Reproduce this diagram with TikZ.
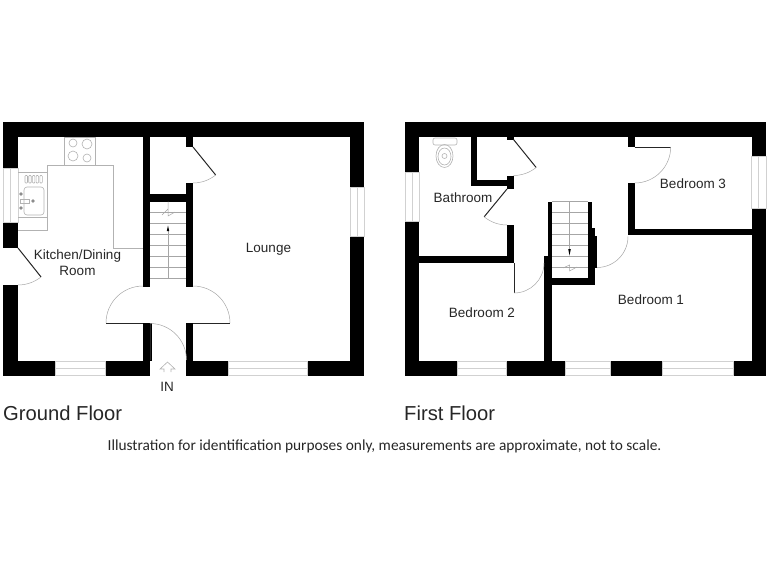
\documentclass[tikz,border=0pt]{standalone}
\usepackage{fontspec}
\setmainfont{Liberation Sans}
\newfontfamily\notefont{Carlito}
\usepackage{tikz}
\usetikzlibrary{calc}
\usetikzlibrary{positioning}
\begin{document}
\begin{tikzpicture}[x=1pt,y=-1pt]
  % some styles
  \tikzset{wall/.style={fill=black,draw=none}}
  \tikzset{pane/.style={draw=black!18,line width=0.7pt}}
  \tikzset{fitting/.style={draw=black!30,line width=0.6pt}}
  \tikzset{tread/.style={draw=black!35,line width=0.5pt}}
  \tikzset{leaf/.style={draw=black!85,line width=1pt}}
  \tikzset{swing/.style={draw=black!35,line width=0.5pt}}
  \tikzset{room/.style={font=\fontsize{13.5}{16}\selectfont,text=black!85,align=center,inner sep=0pt}}
  \tikzset{floorname/.style={font=\fontsize{20.2}{22}\selectfont,text=black!85,anchor=base west,inner sep=0pt}}

\useasboundingbox (0,0) rectangle (768,576);

% walls
\foreach \xa/\ya/\xb/\yb in {
    3/122/364/137, 3/122/18/168, 3/222/18/248, 3/285/18/376,
    3/361/55/376, 105/361/150/376, 186/361/228/376, 307/361/364/376,
    350/122/364/187, 350/236/364/376,
    143/137/150/287, 143/323/150/376, 186/137/193/147, 186/183/193/287,
    186/323/193/376, 143/194/193/201.5,
    405/122/766/137, 405/122/419/172, 405/221/419/376,
    405/361/457/376, 506/361/565/376, 610/361/662/376, 733/361/766/376,
    751.5/122/766/156, 751.5/208/766/376,
    419/256/514/263, 470.5/137/477/186, 470.5/180/514/186,
    507/176/514/189, 507/137/513.5/139.5, 507/225/514/256,
    548/201.5/552/256, 544/256/552/376, 588/201.5/592/228, 588/228/595/285,
    552/278/595/285, 595/236/597/268,
    627.5/137/635/147, 627.5/183/635/235, 627.5/228.5/751.5/235,
    150/323/152/361} {
  \fill[wall] (\xa,\ya) rectangle (\xb,\yb);
}

% windows along the bottom
\foreach \xa/\xb in {55/105,228/307,457/506,565/610,662/733} {
  \draw[pane] (\xa,361.5) rectangle (\xb,375.5);
  \draw[pane] (\xa,368.5) -- (\xb,368.5);
}
% windows in the side walls
\foreach \xa/\xb/\ya/\yb in {3/18/168/222,350/364/187/236,405/419/172/221,751.5/766/156/208} {
  \draw[pane] (\xa,\ya) rectangle (\xb,\yb);
  \draw[pane] ({(\xa+\xb)/2},\ya) -- ({(\xa+\xb)/2},\yb);
}

% doors
\foreach \hx/\hy/\la/\lb/\r in {
    18/248/51.5/90/37, 143/323/180/270/37, 193/323/0/-90/37, 150/360/-90/0/36.5,
    193/147/51/90/36, 513.5/139.5/51/90/36, 507/189/129.4/90/36,
    514/263/90/0/30, 634.7/147/0/90/36} {
  \draw[leaf] (\hx,\hy) -- ++(\la:\r);
  \draw[swing] (\hx,\hy) ++(\la:\r) arc (\la:\lb:\r);
}
\draw[swing] (597,267.5) arc (90:0:31);

% ground floor stairs
\foreach \y in {212,223,234,245,256,267,278} {
  \draw[tread] (150,\y) -- (186,\y);
}
\draw[tread] (168,201.5) -- (168,209) -- (162,215) (168,209) -- (168,216) -- (175,212);
\draw[tread] (168,231) -- (168,278);
\fill[black] (166.8,231) -- (168,225.5) -- (169.2,231) -- cycle;
% first floor stairs
\foreach \y in {201.5,212.5,223,234,245,256,267} {
  \draw[tread] (552,\y) -- (588,\y);
}
\draw[tread] (569.5,201.5) -- (569.5,249);
\fill[black] (568.2,249) -- (569.5,255.5) -- (570.8,249) -- cycle;
\draw[tread] (563,268) -- (569.5,265) -- (569.5,271) -- (577,267);

% kitchen units
\draw[fitting] (64.5,137) rectangle (95,165);
\draw[fitting] (18,230) -- (47,230) -- (47,165) -- (113,165) -- (113,248) -- (143,248);
\draw[fitting] (18,172) -- (47,172) (18,217) -- (47,217);
\foreach \cx/\cy/\cr in {73/143/4,87/144/5,73/156/5,87/158/4} {
  \draw[fitting] (\cx,\cy) circle (\cr);
}
\foreach \i in {0,...,4} {
  \draw[fitting,rounded corners=0.8pt] (25+3.7*\i,175.5) rectangle (27.5+3.7*\i,183);
}
\draw[fitting,rounded corners=3pt] (24,187) rectangle (44,215);
\foreach \cx/\cy in {21/194,21/208,33/201} {
  \fill[black!45] (\cx,\cy) circle (1.8);
}
\draw[fitting] (20,199) rectangle (29,203);

% toilet
\draw[fitting,rounded corners=2pt] (433,138) rectangle (457,145);
\draw[fitting] (444.5,156) ellipse (8.5 and 11.5);
\draw[fitting] (444.5,156.5) ellipse (6.5 and 8.5);
\draw[fitting] (444.5,156) circle (2.5);

% entrance arrow
\draw[fitting] (164,372) -- (164,369) -- (160,369) -- (167.5,362) -- (175,369) -- (171,369) -- (171,372);

\node[room] (kitchen) at (77.5,262.5) {Kitchen/Dining\\Room};
\node[room] (lounge) at (268.5,249) {Lounge};
\node[room] (bathroom) at (463,198) {Bathroom};
\node[room] (bedthree) at (693,184) {Bedroom 3};
\node[room] (bedone) at (651,300) {Bedroom 1};
\node[room] (bedtwo) at (482,313) {Bedroom 2};
\node[room] (entry) at (167,387) {IN};
\node[floorname] (ground) at (3,420) {Ground Floor};
\node[floorname] (first) at (404,420) {First Floor};
\node[font=\notefont\fontsize{15.37}{17}\selectfont,text=black!85,inner sep=0pt] (note) at (384.5,446.5) {Illustration for identification purposes only, measurements are approximate, not to scale.};

\end{tikzpicture}
\end{document}
